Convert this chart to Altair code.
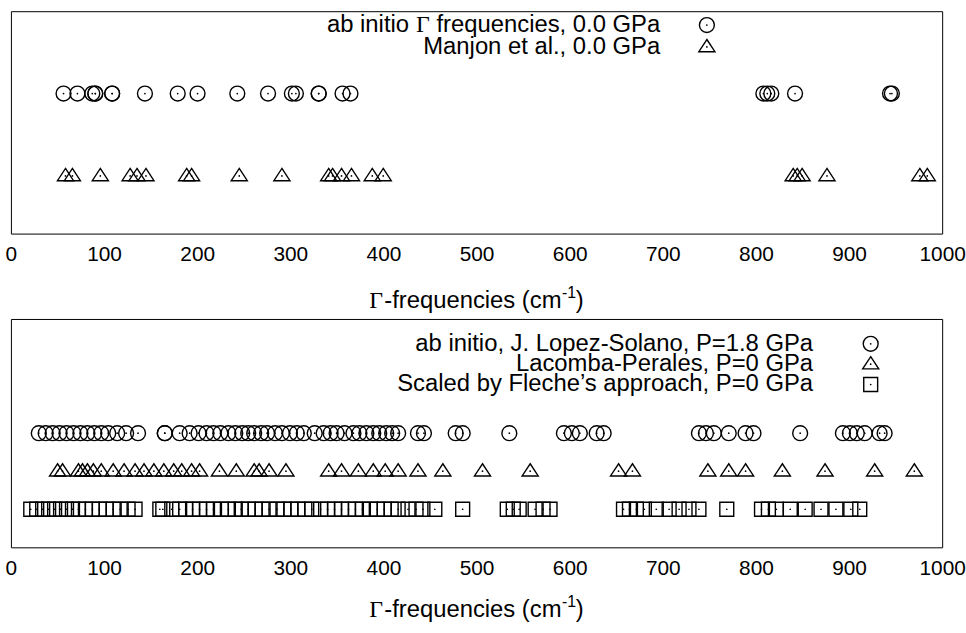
import altair as alt
import pandas as pd

# Frequency axis
X_DOMAIN = [0, 1000]
X_TICKS = list(range(0, 1001, 100))

# Upper panel (0.0 GPa), frequencies in cm^-1
abinitio_0gpa = [56.5, 71.4, 87.4, 90.6, 90.6, 108.7, 108.7, 143.9, 179.1, 200.4,
                 243.1, 276.1, 301.7, 306.0, 330.5, 330.5, 356.1, 364.6,
                 808.0, 812.2, 816.5, 842.0, 944.0, 946.0]
manjon_0gpa = [58.6, 66.0, 96.0, 128.0, 135.4, 145.0, 188.7, 194.0, 245.2, 291.0,
               341.2, 345.4, 355.0, 365.7, 388.0, 399.8,
               840.0, 844.3, 849.6, 876.3, 976.0, 984.0]

# Lower panel, frequencies in cm^-1
lopez_solano_18gpa = [29.9, 37.3, 44.8, 52.2, 59.7, 67.2, 74.6, 82.1, 89.6, 97.0,
                      104.5, 114.1, 123.7, 136.5,
                      165.2, 165.2, 181.2, 191.9, 201.5, 210.0, 217.5, 224.9, 233.5,
                      240.9, 248.4, 254.8, 261.2, 268.7, 275.1, 283.6, 291.0, 299.6,
                      307.0, 314.5, 326.2, 335.8, 343.3, 349.7, 358.2, 367.8, 374.2,
                      381.7, 389.1, 395.5, 403.0, 409.4, 415.8,
                      437.1, 443.5, 477.6, 485.1, 535.2, 593.8, 602.3, 610.9, 629.0,
                      636.5, 738.8, 746.3, 754.8, 770.8, 788.9, 797.4, 847.5,
                      893.4, 900.9, 908.3, 916.8, 932.8, 938.2]
lacomba_perales_0gpa = [50.1, 55.4, 72.5, 76.8, 82.1, 88.5, 97.0, 109.8, 121.5, 133.3,
                        142.9, 153.5, 164.2, 174.8, 183.4, 194.0, 202.6, 223.9, 242.0,
                        261.2, 266.5, 277.2, 295.3, 341.2, 355.0, 373.1, 389.1, 401.9,
                        415.8, 437.1, 463.8, 506.4, 557.6, 652.5, 667.4, 748.4, 770.8,
                        788.9, 828.4, 874.2, 927.5, 970.1]
fleche_scaled_0gpa = [21.3, 27.7, 34.1, 40.5, 46.9, 53.3, 59.7, 66.1, 72.5, 80.0,
                      87.4, 94.9, 102.3, 109.8, 117.3, 125.8, 133.3,
                      159.9, 163.1, 172.7, 181.2, 187.6, 195.1, 202.6, 210.0, 217.5,
                      226.0, 233.5, 240.9, 247.3, 254.8, 262.3, 269.7, 277.2, 285.7,
                      293.2, 300.6, 308.1, 315.6, 323.0, 332.6, 340.1, 347.5, 355.0,
                      362.5, 369.9, 377.4, 385.9, 393.4, 400.9, 408.3, 415.8, 426.4,
                      435.0, 442.4, 455.2, 485.1,
                      533.0, 539.4, 545.8, 562.9, 571.4, 578.9,
                      657.8, 664.2, 671.6, 680.2, 693.0, 706.8, 717.5, 728.1, 738.8,
                      768.7,
                      806.0, 813.4, 821.9, 836.9, 852.9, 869.9, 885.9, 901.9, 911.5]

# Row (y level) of each series inside its panel
TOP_ROWS = {"abinitio": 1, "manjon": 0}
BOTTOM_ROWS = {"lopez": 2, "lacomba": 1, "fleche": 0}

SANS = "Liberation Sans"
SERIF = "Liberation Serif"
TICK_FS = 21
FS = 24
W = 938
H_TOP, H_BOT = 224, 230

TRIANGLE = "M0,-1L1.08,0.64L-1.08,0.64Z"


def frame(values, row):
    return pd.DataFrame({"freq": values, "row": [row] * len(values)})


def x_enc():
    return alt.X("freq:Q",
                 scale=alt.Scale(domain=X_DOMAIN, nice=False, zero=False),
                 axis=alt.Axis(values=X_TICKS, format="d", title=None, ticks=False,
                               domain=False, grid=False, labelFont=SANS,
                               labelFontSize=TICK_FS, labelColor="black",
                               labelPadding=10, labelFlush=False))


def series(df, shape, ydom, size):
    y = alt.Y("row:Q", scale=alt.Scale(domain=ydom, nice=False, zero=False), axis=None)
    outline = alt.Chart(df).mark_point(shape=shape, filled=False, stroke="black",
                                       strokeWidth=1.4, size=size, opacity=1).encode(x=x_enc(), y=y)
    dot = alt.Chart(df).mark_point(shape="circle", filled=True, fill="black",
                                   size=3, strokeWidth=0, opacity=1).encode(x=x_enc(), y=y)
    return [outline, dot]


def text(t, x, y, align, font=SANS, size=FS, dy=0):
    return alt.Chart().mark_text(text=t, align=align, baseline="middle", font=font,
                                 fontSize=size, color="black", dy=dy).encode(
        x=alt.value(x), y=alt.value(y))


def key_symbol(shape, x, y, size):
    outline = alt.Chart().mark_point(shape=shape, filled=False, stroke="black",
                                     strokeWidth=1.4, size=size, opacity=1).encode(
        x=alt.value(x), y=alt.value(y))
    dot = alt.Chart().mark_point(shape="circle", filled=True, fill="black", size=3,
                                 strokeWidth=0, opacity=1).encode(
        x=alt.value(x), y=alt.value(y))
    return [outline, dot]


def axis_title(y):
    # "Γ-frequencies (cm⁻¹)" centred below the panel
    x0 = W / 2 - 108
    return [
        text("Γ", x0, y, "left", font=SERIF),
        text("-frequencies (cm", x0 + 15, y, "left"),
        text("-1", x0 + 194, y - 8, "left", size=16),
        text(")", x0 + 208, y, "left"),
    ]


TOP_Y = [-0.7, 2]
BOT_Y = [-1, 5]

TOP_KEY_X = 654
BOT_KEY_X = 808

top_layers = (
    series(frame(abinitio_0gpa, TOP_ROWS["abinitio"]), "circle", TOP_Y, 225)
    + series(frame(manjon_0gpa, TOP_ROWS["manjon"]), TRIANGLE, TOP_Y, 225)
    + [
        text("frequencies, 0.0 GPa", TOP_KEY_X, 14, "right"),
        text("Γ", TOP_KEY_X - 232, 14, "right", font=SERIF),
        text("ab initio", TOP_KEY_X - 232 - 21, 14, "right"),
        text("Manjon et al., 0.0 GPa", TOP_KEY_X, 36, "right"),
    ]
    + key_symbol("circle", 701, 14, 225)
    + key_symbol(TRIANGLE, 701, 36, 225)
    + axis_title(H_TOP + 68)
)

bottom_layers = (
    series(frame(lopez_solano_18gpa, BOTTOM_ROWS["lopez"]), "circle", BOT_Y, 225)
    + series(frame(lacomba_perales_0gpa, BOTTOM_ROWS["lacomba"]), TRIANGLE, BOT_Y, 225)
    + series(frame(fleche_scaled_0gpa, BOTTOM_ROWS["fleche"]), "square", BOT_Y, 196)
    + [
        text("ab initio, J. Lopez-Solano, P=1.8 GPa", BOT_KEY_X, 25, "right"),
        text("Lacomba-Perales, P=0 GPa", BOT_KEY_X, 45.5, "right"),
        text("Scaled by Fleche\u2019s approach, P=0 GPa", BOT_KEY_X, 66, "right"),
    ]
    + key_symbol("circle", 866, 25, 225)
    + key_symbol(TRIANGLE, 866, 45.5, 225)
    + key_symbol("square", 866, 66, 196)
    + axis_title(H_BOT + 63)
)

top = alt.layer(*top_layers).properties(width=W, height=H_TOP)
bottom = alt.layer(*bottom_layers).properties(width=W, height=H_BOT)

chart = (
    alt.vconcat(top, bottom, spacing=86, bounds="flush")
    .properties(padding={"left": 4, "top": 8, "right": 0, "bottom": 5}, background="white")
    .configure_view(stroke="black", strokeWidth=1)
)

chart.save("out.html", embed_options={"renderer": "svg", "actions": False})
